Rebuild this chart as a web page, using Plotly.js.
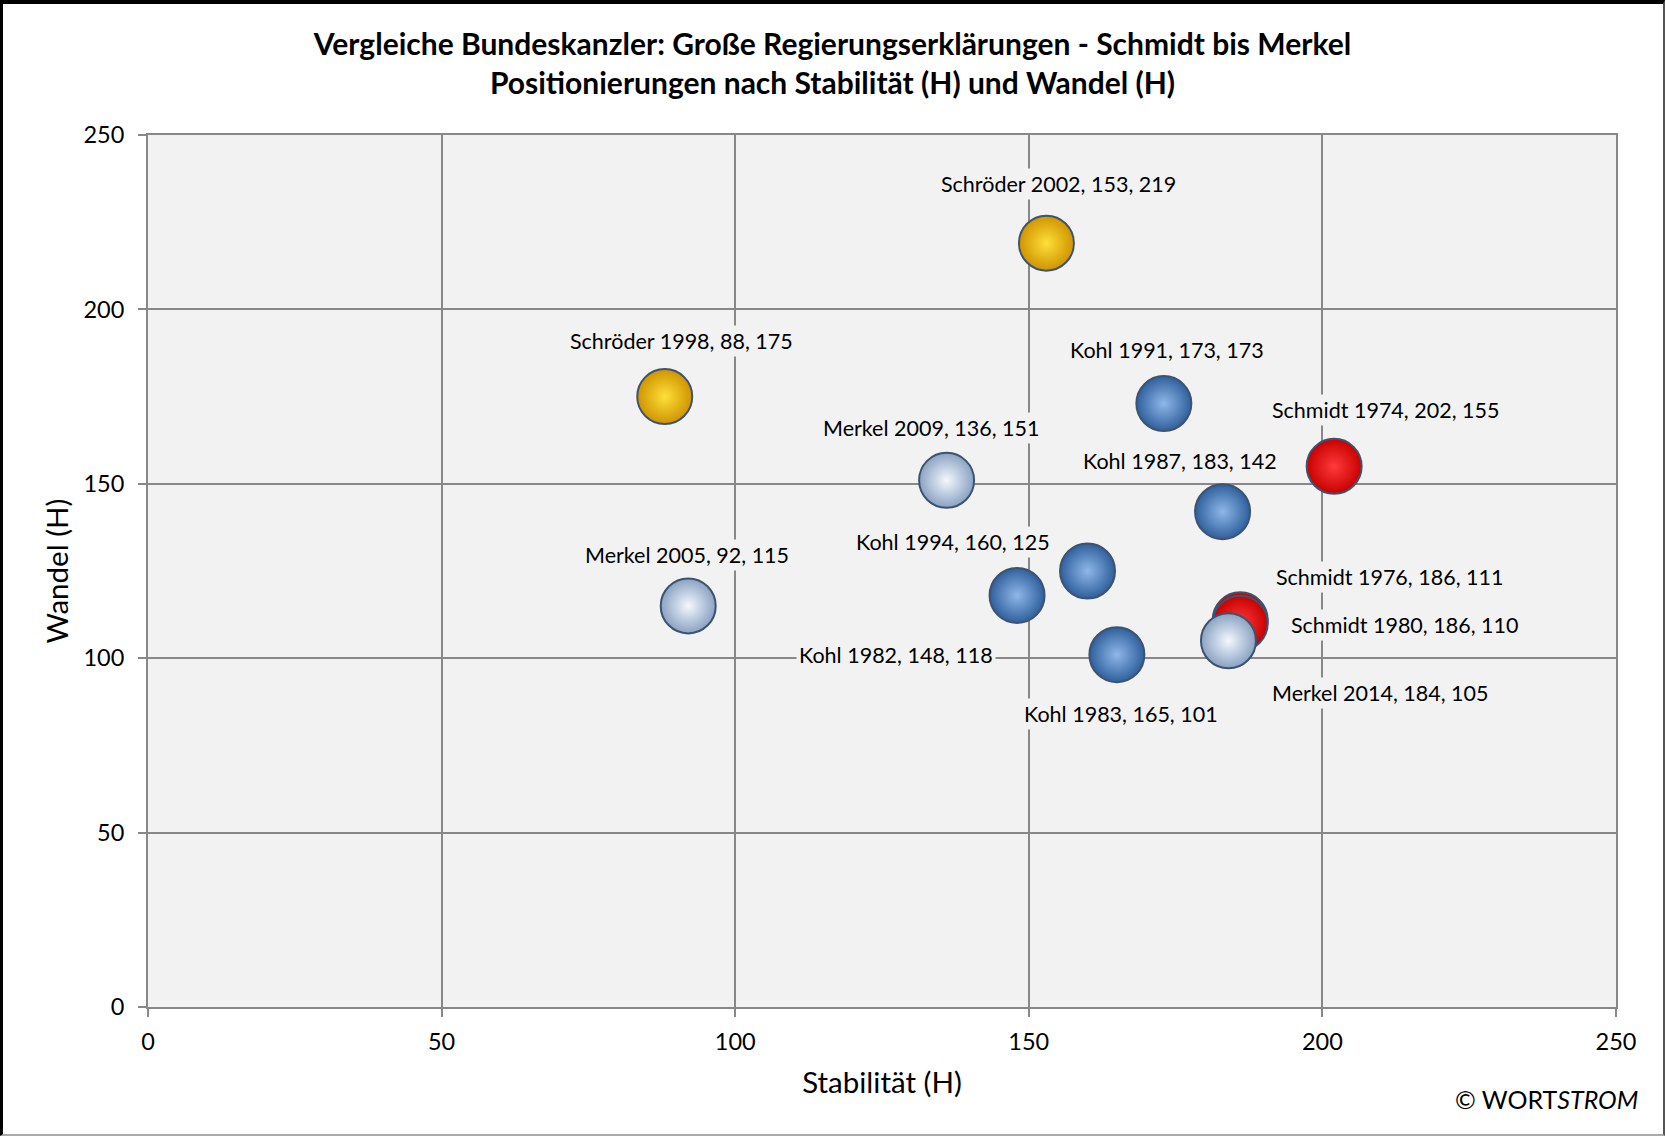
<!DOCTYPE html>
<html>
<head>
<meta charset="utf-8">
<script src="https://cdn.plot.ly/plotly-3.0.1.min.js"></script>
<style>
  html, body { margin: 0; padding: 0; background: #fff; }
  #wrap { position: relative; width: 1665px; height: 1136px; }
  #chart { width: 1665px; height: 1136px; }
  #frame { position: absolute; left: 0; top: 0; width: 1665px; height: 1136px; box-sizing: border-box;
           border-left: 3px solid #000; border-top: 4px solid #000; border-right: 2px solid #555; border-bottom: 2px solid #aaa;
           pointer-events: none; }
</style>
</head>
<body>
<div id="wrap"><div id="chart"></div><div id="frame"></div></div>
<script>
// Series data: names, Stabilität (x), Wandel (y)
const schmidtNames = ["Schmidt 1974", "Schmidt 1976", "Schmidt 1980"];
const schmidtX = [202, 186, 186];
const schmidtY = [155, 111, 110];

const kohlNames = ["Kohl 1982", "Kohl 1983", "Kohl 1987", "Kohl 1991", "Kohl 1994"];
const kohlX = [148, 165, 183, 173, 160];
const kohlY = [118, 101, 142, 173, 125];

const schroederNames = ["Schröder 1998", "Schröder 2002"];
const schroederX = [88, 153];
const schroederY = [175, 219];

const merkelNames = ["Merkel 2005", "Merkel 2009", "Merkel 2014"];
const merkelX = [92, 136, 184];
const merkelY = [115, 151, 105];

const axisTicks = [0, 50, 100, 150, 200, 250];

// label offsets in pixels (style only)
const labelShift = {
  "Schmidt 1974": [51, 56], "Schmidt 1976": [149, 43], "Schmidt 1980": [164, -2],
  "Kohl 1982": [-121, -60], "Kohl 1983": [4, -59], "Kohl 1987": [-43, 51],
  "Kohl 1991": [3, 54], "Kohl 1994": [-135, 29],
  "Schröder 1998": [17, 56], "Schröder 2002": [12, 59],
  "Merkel 2005": [-1, 51], "Merkel 2009": [-15, 52], "Merkel 2014": [152, -52]
};

const FONT = "Lato, 'Open Sans', 'DejaVu Sans', sans-serif";

function mk(names, xs, ys, edge, center) {
  return {
    type: "scatter", mode: "markers", x: xs, y: ys, text: names,
    hoverinfo: "text",
    marker: {
      size: 55, color: edge,
      gradient: { type: "radial", color: center },
      line: { color: "#3d5370", width: 2 }
    },
    showlegend: false
  };
}

const traces = [
  mk(schmidtNames, schmidtX, schmidtY, "#c80000", "#ff3a3a"),
  mk(kohlNames, kohlX, kohlY, "#2f5f9c", "#8fb8ea"),
  mk(schroederNames, schroederX, schroederY, "#cf9400", "#ffdf3a"),
  mk(merkelNames, merkelX, merkelY, "#8aa2c2", "#f4f8ff")
];

const annotations = [];
function addLabels(names, xs, ys) {
  names.forEach((n, i) => {
    const s = labelShift[n] || [0, 50];
    annotations.push({
      x: xs[i], y: ys[i], xref: "x", yref: "y",
      text: n + ", " + xs[i] + ", " + ys[i],
      showarrow: false, xanchor: "center", yanchor: "middle",
      xshift: s[0], yshift: s[1],
      bgcolor: "#f2f2f2", borderpad: 2,
      font: { family: FONT, size: 21.5, color: "#000" }
    });
  });
}
addLabels(schmidtNames, schmidtX, schmidtY);
addLabels(kohlNames, kohlX, kohlY);
addLabels(schroederNames, schroederX, schroederY);
addLabels(merkelNames, merkelX, merkelY);

annotations.push({
  xref: "paper", yref: "paper", x: 1.0165, y: -0.106,
  xanchor: "right", yanchor: "middle", showarrow: false,
  text: "© WORT<i>STROM</i>",
  font: { family: FONT, size: 25, color: "#000" }
});

const axisCommon = {
  range: [0, 250], tickvals: axisTicks, ticktext: axisTicks.map(String),
  showgrid: true, gridcolor: "#888888", gridwidth: 2,
  showline: true, linecolor: "#888888", linewidth: 2, mirror: true,
  ticks: "outside", ticklen: 8, tickcolor: "#888888", tickwidth: 2,
  zeroline: false, fixedrange: true,
  tickfont: { family: FONT, size: 23.5, color: "#000" }
};

const layout = {
  width: 1665, height: 1136,
  paper_bgcolor: "#ffffff", plot_bgcolor: "#f2f2f2",
  margin: { l: 148, r: 49, t: 135, b: 129 },
  title: {
    text: "<b>Vergleiche Bundeskanzler: Große Regierungserklärungen - Schmidt bis Merkel</b><br><b>Positionierungen nach Stabilität (H) und Wandel (H)</b>",
    x: 0.5, xref: "container", xanchor: "center",
    y: 0.952, yref: "container", yanchor: "middle",
    font: { family: FONT, size: 30, color: "#000" }
  },
  xaxis: Object.assign({}, axisCommon, {
    title: { text: "Stabilität (H)", font: { family: FONT, size: 29.5, color: "#000" }, standoff: 18 },
    ticklabelstandoff: 5
  }),
  yaxis: Object.assign({}, axisCommon, {
    title: { text: "Wandel (H)", font: { family: FONT, size: 29.5, color: "#000" }, standoff: 6 },
    ticklabelstandoff: 9
  }),
  annotations: annotations,
  hovermode: "closest"
};

Plotly.newPlot("chart", traces, layout, { displayModeBar: false, staticPlot: true });
</script>
</body>
</html>
